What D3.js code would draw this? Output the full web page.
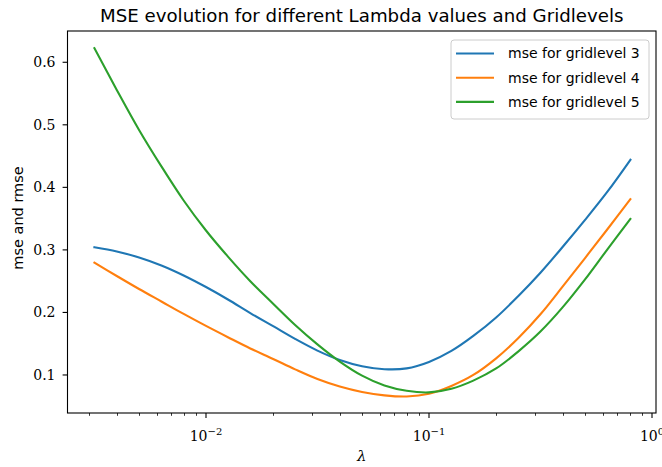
<!DOCTYPE html>
<html>
<head>
<meta charset="utf-8">
<script src="https://cdn.jsdelivr.net/npm/d3@7"></script>
<style>
  body { margin: 0; background: #fff; }
  text { fill: #000; }
</style>
</head>
<body>
<script>
// lambda grid and mse values
var lambdas = [0.00316, 0.00398, 0.00501, 0.00631, 0.00794, 0.01, 0.0126, 0.0158, 0.02,
  0.0251, 0.0316, 0.0398, 0.0501, 0.0631, 0.0794, 0.1, 0.126, 0.158, 0.2, 0.251,
  0.316, 0.398, 0.501, 0.631, 0.8];

var mse3 = [0.3042, 0.2975, 0.2879, 0.2751, 0.2591, 0.2406, 0.2203, 0.1990, 0.1780,
  0.1577, 0.1390, 0.1240, 0.1140, 0.1092, 0.1105, 0.1208, 0.1384, 0.1624, 0.1919,
  0.2259, 0.2635, 0.3050, 0.3480, 0.3930, 0.4440];

var mse4 = [0.2796, 0.2583, 0.2375, 0.2175, 0.1976, 0.1784, 0.1600, 0.1424, 0.1256,
  0.1090, 0.0935, 0.0815, 0.0728, 0.0674, 0.0656, 0.0700, 0.0825, 0.1000, 0.1266,
  0.1587, 0.1970, 0.2416, 0.2870, 0.3330, 0.3810];

var mse5 = [0.6225, 0.5558, 0.4918, 0.4335, 0.3790, 0.3310, 0.2885, 0.2500, 0.2140,
  0.1800, 0.1490, 0.1215, 0.0990, 0.0833, 0.0748, 0.0722, 0.0780, 0.0910, 0.1104,
  0.1374, 0.1694, 0.2084, 0.2528, 0.3009, 0.3495];

var seriesNames = ["mse for gridlevel 3", "mse for gridlevel 4", "mse for gridlevel 5"];
var colors = ["#1f77b4", "#ff7f0e", "#2ca02c"];
var yTicks = [0.1, 0.2, 0.3, 0.4, 0.5, 0.6];
var xTicks = [0.01, 0.1, 1];
var xTickExp = ["\u22122", "\u22121", "0"];

var width = 662, height = 467;
var plotL = 67.5, plotR = 656, plotT = 31, plotB = 413;

var svg = d3.select("body")
    .append("svg")
    .attr("width", width)
    .attr("height", height);

var x = d3.scaleLog()
    .domain([0.002393, 1.0421])
    .range([plotL, plotR]);

var y = d3.scaleLinear()
    .domain([0.0392, 0.650])
    .range([plotB, plotT]);

var serif = "'DejaVu Serif', 'Liberation Serif', serif";
var sans = "'DejaVu Sans', sans-serif";

// clip so nothing leaks out of the axes
svg.append("clipPath").attr("id", "clip")
  .append("rect")
    .attr("x", plotL).attr("y", plotT)
    .attr("width", plotR - plotL).attr("height", plotB - plotT);

var line = d3.line()
    .x(function(d) { return x(d[0]); })
    .y(function(d) { return y(d[1]); })
    .curve(d3.curveCatmullRom.alpha(0.5));

[mse3, mse4, mse5].forEach(function(vals, i) {
  svg.append("path")
    .datum(lambdas.map(function(l, j) { return [l, vals[j]]; }))
    .attr("clip-path", "url(#clip)")
    .attr("fill", "none")
    .attr("stroke", colors[i])
    .attr("stroke-width", 2.1)
    .attr("stroke-linecap", "square")
    .attr("d", line);
});

// minor x ticks
var minor = x.ticks().filter(function(t) {
  return xTicks.indexOf(t) < 0 && x(t) >= plotL && x(t) <= plotR;
});
svg.selectAll(".minor")
  .data(minor)
  .enter().append("line")
    .attr("x1", function(d) { return Math.round(x(d)) + 0.5; })
    .attr("x2", function(d) { return Math.round(x(d)) + 0.5; })
    .attr("y1", plotB)
    .attr("y2", plotB + 2.8)
    .attr("stroke", "#000")
    .attr("stroke-width", 0.8);

// major x ticks + labels
var xt = svg.selectAll(".xt")
  .data(xTicks)
  .enter().append("g")
    .attr("transform", function(d) { return "translate(" + x(d) + ",0)"; });

xt.append("line")
    .attr("y1", plotB)
    .attr("y2", plotB + 4.9)
    .attr("stroke", "#000")
    .attr("stroke-width", 1.1);

xt.append("text")
    .attr("y", plotB + 28)
    .attr("text-anchor", "middle")
    .style("font-family", serif)
    .style("font-size", "14px")
    .each(function(d, i) {
      var t = d3.select(this);
      t.append("tspan").text("10");
      t.append("tspan")
        .attr("dy", -6)
        .style("font-size", "10px")
        .text(xTickExp[i]);
    });

// y ticks
var yt = svg.selectAll(".yt")
  .data(yTicks)
  .enter().append("g")
    .attr("transform", function(d) { return "translate(0," + y(d) + ")"; });

yt.append("line")
    .attr("x1", plotL - 4.9)
    .attr("x2", plotL)
    .attr("stroke", "#000")
    .attr("stroke-width", 1.1);

yt.append("text")
    .attr("x", plotL - 12)
    .attr("dy", "0.35em")
    .attr("text-anchor", "end")
    .style("font-family", serif)
    .style("font-size", "14px")
    .text(function(d) { return d3.format(".1f")(d); });

// axes frame
svg.append("rect")
    .attr("x", plotL).attr("y", plotT)
    .attr("width", plotR - plotL).attr("height", plotB - plotT)
    .attr("fill", "none")
    .attr("stroke", "#000")
    .attr("stroke-width", 1.1);

// title and labels
svg.append("text")
    .attr("x", (plotL + plotR) / 2)
    .attr("y", 21.5)
    .attr("text-anchor", "middle")
    .style("font-family", sans)
    .style("font-size", "18.2px")
    .text("MSE evolution for different Lambda values and Gridlevels");

svg.append("text")
    .attr("x", (plotL + plotR) / 2)
    .attr("y", 461)
    .attr("text-anchor", "middle")
    .style("font-family", serif)
    .style("font-style", "italic")
    .style("font-size", "15px")
    .text("\u03bb");

svg.append("text")
    .attr("transform", "translate(23,218) rotate(-90)")
    .attr("text-anchor", "middle")
    .style("font-family", sans)
    .style("font-size", "14.5px")
    .text("mse and rmse");

// legend
var legend = svg.append("g");
legend.append("rect")
    .attr("x", 451).attr("y", 40)
    .attr("width", 198).attr("height", 79)
    .attr("rx", 3)
    .attr("fill", "#fff")
    .attr("fill-opacity", 0.8)
    .attr("stroke", "#cccccc")
    .attr("stroke-width", 1);

var items = legend.selectAll(".item")
  .data(seriesNames)
  .enter().append("g")
    .attr("transform", function(d, i) { return "translate(0," + (53.5 + i * 24.2) + ")"; });

items.append("line")
    .attr("x1", 456).attr("x2", 494)
    .attr("stroke", function(d, i) { return colors[i]; })
    .attr("stroke-width", 2.1);

items.append("text")
    .attr("x", 508)
    .attr("dy", "0.35em")
    .style("font-family", sans)
    .style("font-size", "14px")
    .text(function(d) { return d; });
</script>
</body>
</html>
